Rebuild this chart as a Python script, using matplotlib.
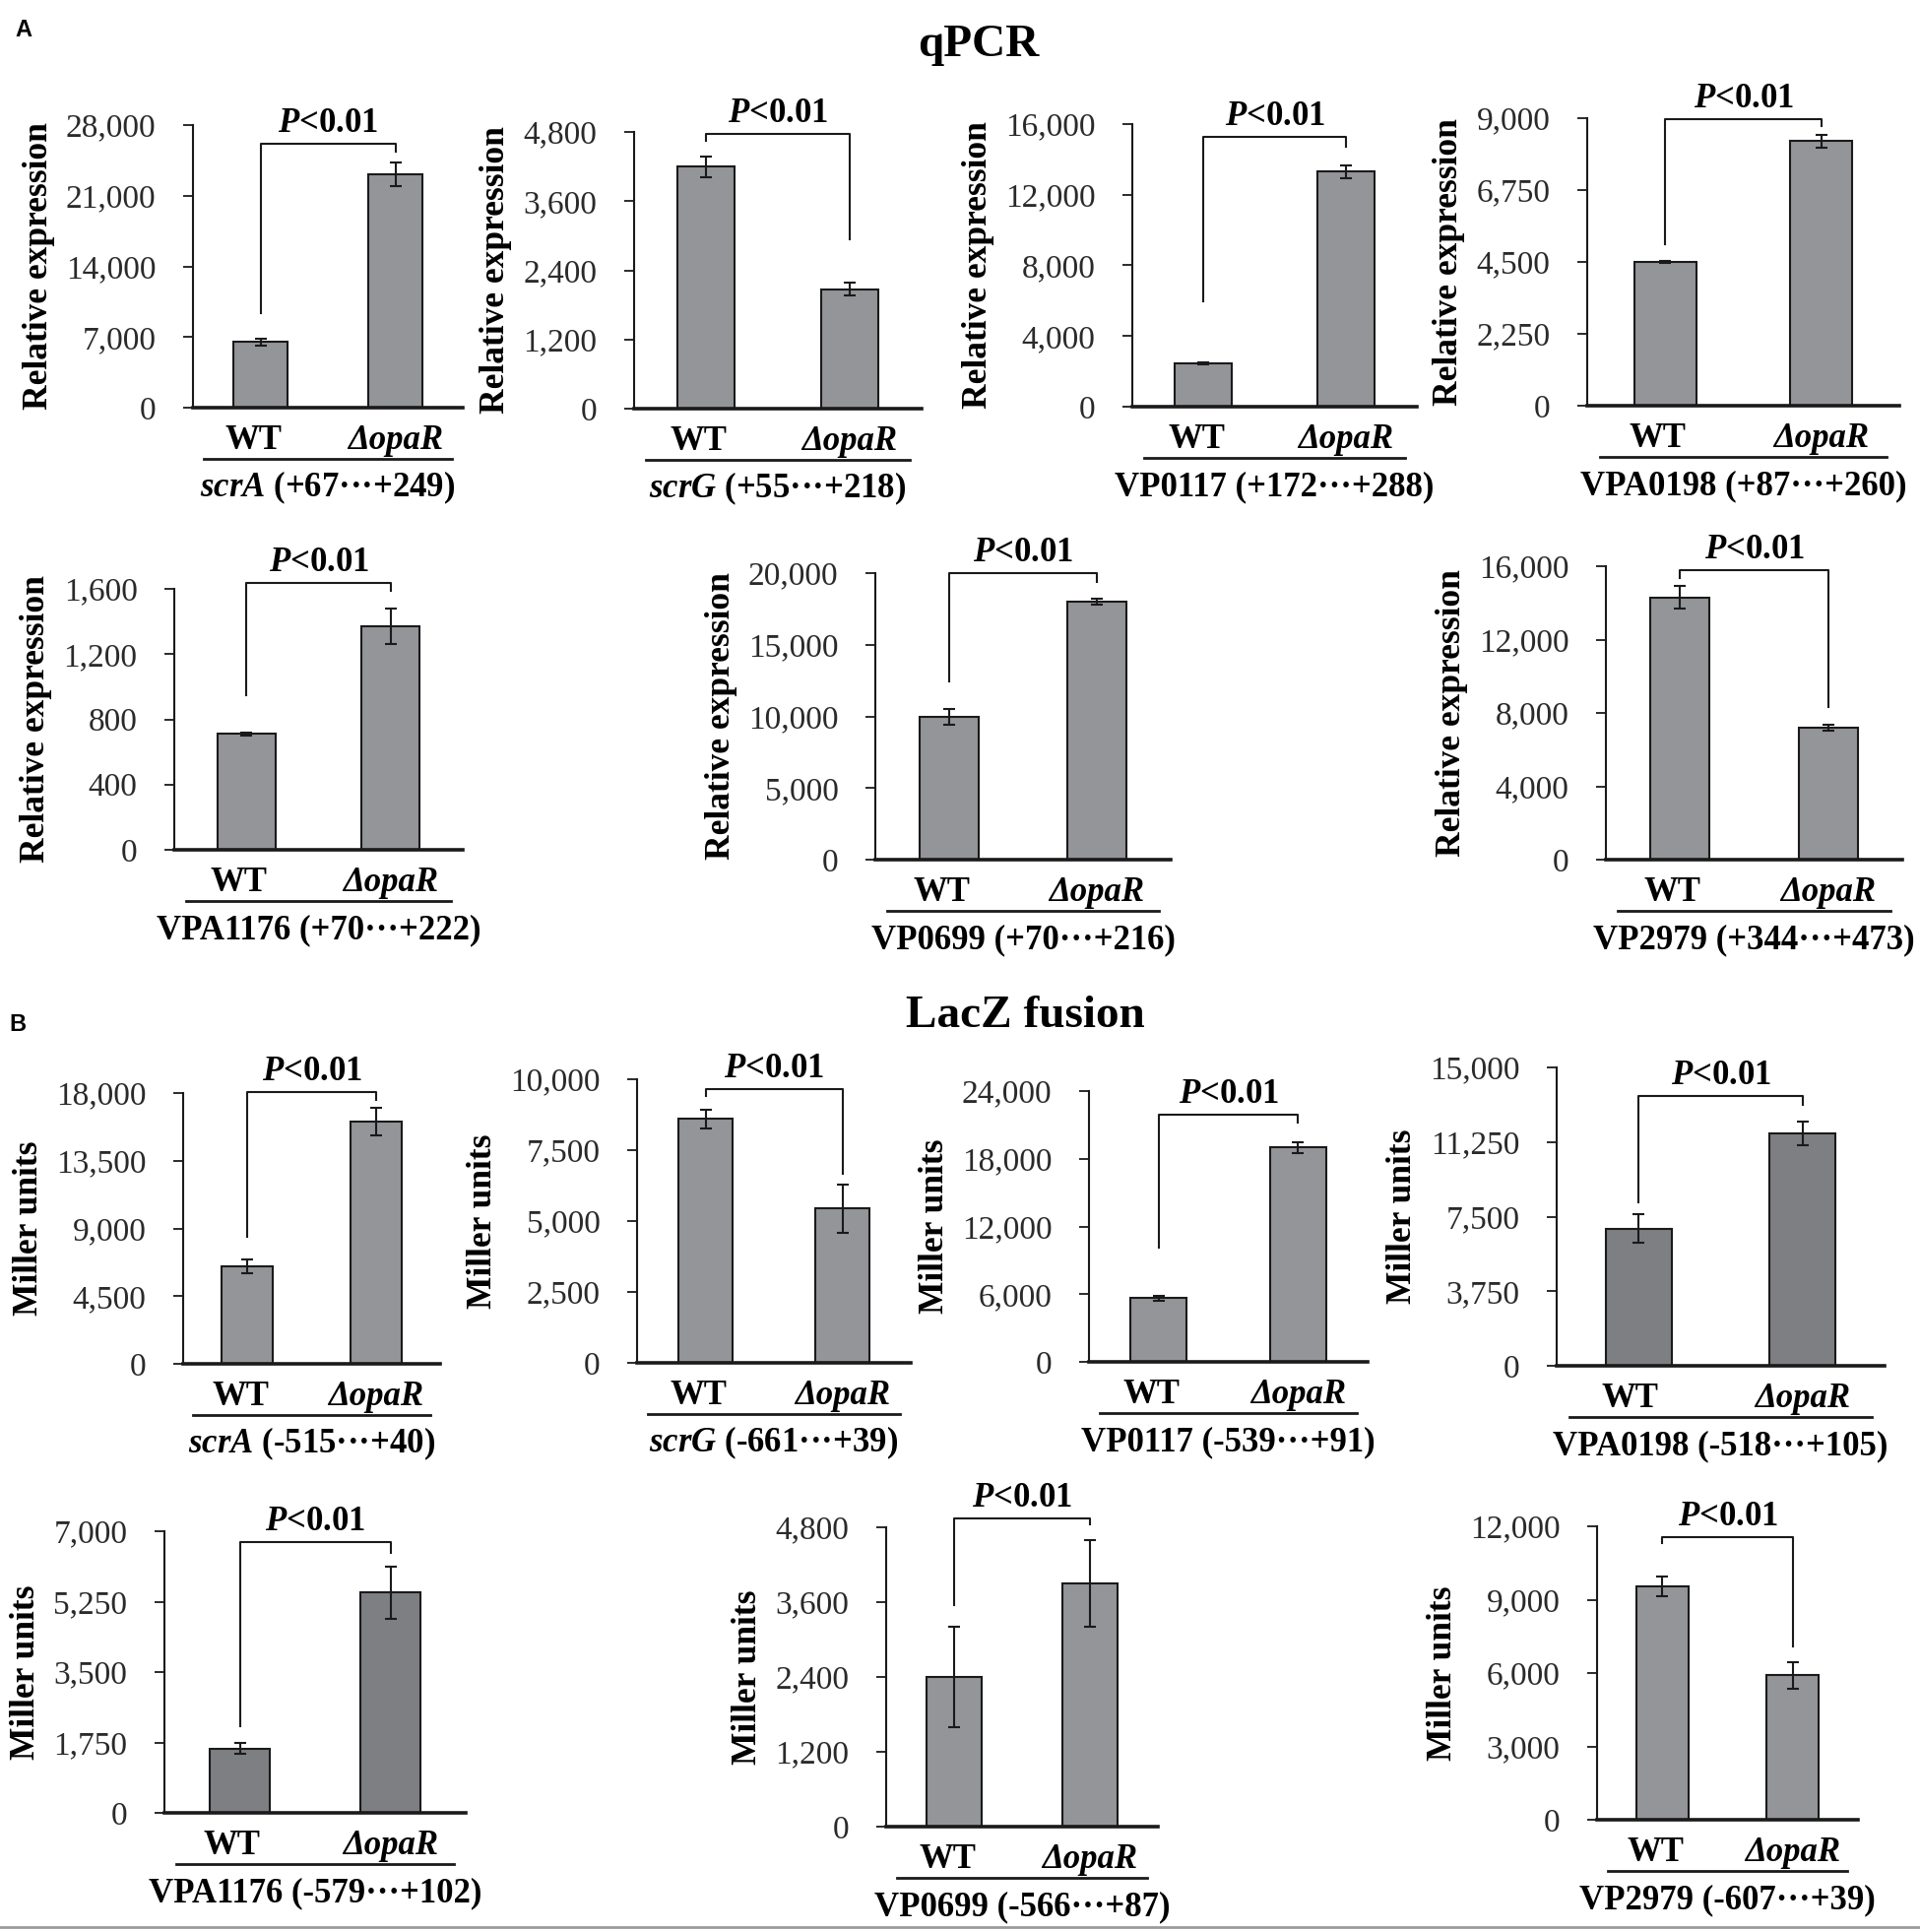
import matplotlib
matplotlib.use("Agg")  # headless backend
import matplotlib.pyplot as plt
import matplotlib.transforms as mtransforms
from matplotlib.lines import Line2D
from matplotlib.ticker import FuncFormatter

plt.rcParams['font.family'] = ['Liberation Serif', 'DejaVu Serif']
plt.rcParams['mathtext.fontset'] = 'custom'
plt.rcParams['mathtext.rm'] = 'Liberation Serif:bold'
plt.rcParams['mathtext.it'] = 'Liberation Serif:italic:bold'
plt.rcParams['mathtext.bf'] = 'Liberation Serif:bold'

# ---- data ----
strains = ["WT", "ΔopaR"]

qpcr_genes = ["scrA", "scrG", "VP0117", "VPA0198", "VPA1176", "VP0699", "VP2979"]
qpcr_regions = ["+67···+249", "+55···+218", "+172···+288", "+87···+260",
                "+70···+222", "+70···+216", "+344···+473"]
qpcr_wt = [6500, 4200, 2450, 4500, 710, 9950, 14300]
qpcr_wt_err = [350, 180, 50, 40, 10, 550, 600]
qpcr_mut = [23100, 2070, 13300, 8280, 1370, 18000, 7200]
qpcr_mut_err = [1150, 110, 380, 200, 110, 200, 150]
qpcr_ymax = [28000, 4800, 16000, 9000, 1600, 20000, 16000]
# bracket: top, left leg bottom, right leg bottom
qpcr_bracket = [(26150, 9370, 25370), (4766, 4646, 2938), (15275, 5965, 14700),
                (8970, 5055, 8750), (1636, 948, 1588), (20000, 12440, 19380),
                (15785, 15350, 8320)]

lacz_genes = ["scrA", "scrG", "VP0117", "VPA0198", "VPA1176", "VP0699", "VP2979"]
lacz_regions = ["-515···+40", "-661···+39", "-539···+91", "-518···+105",
                "-579···+102", "-566···+87", "-607···+39"]
lacz_wt = [6500, 8600, 5650, 6900, 1600, 2400, 9550]
lacz_wt_err = [450, 340, 220, 720, 140, 800, 400]
lacz_mut = [16100, 5450, 19000, 11700, 5480, 3900, 5900]
lacz_mut_err = [900, 850, 500, 600, 650, 700, 550]
lacz_ymax = [18000, 10000, 24000, 15000, 7000, 4800, 12000]
lacz_bracket = [(18065, 8440, 17540), (9653, 9410, 6670), (21900, 10120, 21200),
                (13560, 8220, 13120), (6730, 2150, 6460), (4950, 3550, 4850),
                (11557, 11315, 7090)]

italic_genes = {"scrA", "scrG"}

# ---- layout in pixels: left, right, top tick, zero line ----
W, H = 1950, 1962
qpcr_rects = [(196, 470, 127, 414), (644, 936, 134, 415), (1150, 1439, 126, 413),
              (1612, 1929, 120, 412), (177, 470, 598, 863), (889, 1189, 582, 873),
              (1631, 1932, 575, 873)]
lacz_rects = [(186, 447, 1110, 1385), (647, 925, 1096, 1384), (1106, 1389, 1108, 1383),
              (1581, 1914, 1084, 1387), (167, 473, 1555, 1841), (900, 1176, 1551, 1855),
              (1622, 1887, 1550, 1848)]

light = "#949599"
dark = "#7e7f83"
lacz_colors = [light, light, light, dark, dark, light, light]
ink = "#1a1a1a"

fig = plt.figure(figsize=(W / 100, H / 100), dpi=100)


def draw_panel(rect, ymax, wt, wt_err, mut, mut_err, bracket, gene, region, ylabel, color):
    l, r, t, b = rect
    ax = fig.add_axes([l / W, 1 - b / H, (r - l) / W, (b - t) / H])
    x = [0, 1]
    ax.bar(x, [wt, mut], width=0.4, color=color, edgecolor=ink, linewidth=1.5, zorder=2)
    ax.errorbar(x, [wt, mut], yerr=[wt_err, mut_err], fmt='none', ecolor=ink,
                elinewidth=1.5, capsize=4, capthick=1.5, zorder=3)
    ax.set_xlim(-0.5, 1.5)
    ax.set_ylim(0, ymax)
    ax.set_yticks([ymax * i / 4 for i in range(5)])
    ax.yaxis.set_major_formatter(FuncFormatter(lambda v, p: f"{int(round(v)):,}"))
    ax.set_xticks([])
    ax.tick_params(axis='y', length=7, width=1.3, pad=20, labelsize=24,
                   colors=ink, labelcolor="#2a2a2a")
    for s in ['top', 'right']:
        ax.spines[s].set_visible(False)
    ax.spines['left'].set_linewidth(1.5)
    ax.spines['bottom'].set_linewidth(2.6)
    ax.spines['left'].set_color(ink)
    ax.spines['bottom'].set_color(ink)
    ax.set_ylabel(ylabel, fontsize=25.5, fontweight='bold', labelpad=8)

    # significance bracket
    top, lb, rb = bracket
    ax.plot([0, 0, 1, 1], [lb, top, top, rb], color=ink, lw=1.5, clip_on=False)
    ax.annotate(r'$P$<0.01', (0.5, top), xytext=(0, 12), textcoords='offset pixels',
                ha='center', va='baseline', fontsize=25, fontweight='bold',
                annotation_clip=False)

    # labels under the axis
    tr = ax.get_xaxis_transform()

    def off(dy):
        return mtransforms.offset_copy(tr, fig=fig, y=dy, units='dots')

    ax.text(-0.05, 0, strains[0], transform=off(-42), ha='center', va='baseline',
            fontsize=25, fontweight='bold')
    ax.text(1, 0, strains[1], transform=off(-42), ha='center', va='baseline',
            fontsize=25, fontweight='bold', fontstyle='italic')
    ax.add_line(Line2D([-0.42, 1.42], [0, 0], transform=off(-52), color=ink,
                       lw=2, clip_on=False))
    name = f"${gene}$" if gene in italic_genes else gene
    ax.text(0.5, 0, f"{name} ({region})", transform=off(-90), ha='center',
            va='baseline', fontsize=25, fontweight='bold')
    return ax


for i in range(7):
    draw_panel(qpcr_rects[i], qpcr_ymax[i], qpcr_wt[i], qpcr_wt_err[i], qpcr_mut[i],
               qpcr_mut_err[i], qpcr_bracket[i], qpcr_genes[i], qpcr_regions[i],
               "Relative expression", light)
    draw_panel(lacz_rects[i], lacz_ymax[i], lacz_wt[i], lacz_wt_err[i], lacz_mut[i],
               lacz_mut_err[i], lacz_bracket[i], lacz_genes[i], lacz_regions[i],
               "Miller units", lacz_colors[i])

# section titles and panel letters
fig.text(994 / W, 1 - 57 / H, "qPCR", ha='center', va='baseline', fontsize=34, fontweight='bold')
fig.text(1041 / W, 1 - 1043 / H, "LacZ fusion", ha='center', va='baseline', fontsize=34,
         fontweight='bold')
fig.text(15 / W, 1 - 37 / H, "A", family='Liberation Sans', fontweight='bold', fontsize=17,
         va='baseline')
fig.text(9 / W, 1 - 1047 / H, "B", family='Liberation Sans', fontweight='bold', fontsize=17,
         va='baseline')

# thin grey rule at the bottom
fig.add_artist(Line2D([0, 1], [1 - 1957 / H, 1 - 1957 / H], transform=fig.transFigure,
                      color="#9a9a9a", lw=2))

fig.savefig("out.png", dpi=100, facecolor="white")
